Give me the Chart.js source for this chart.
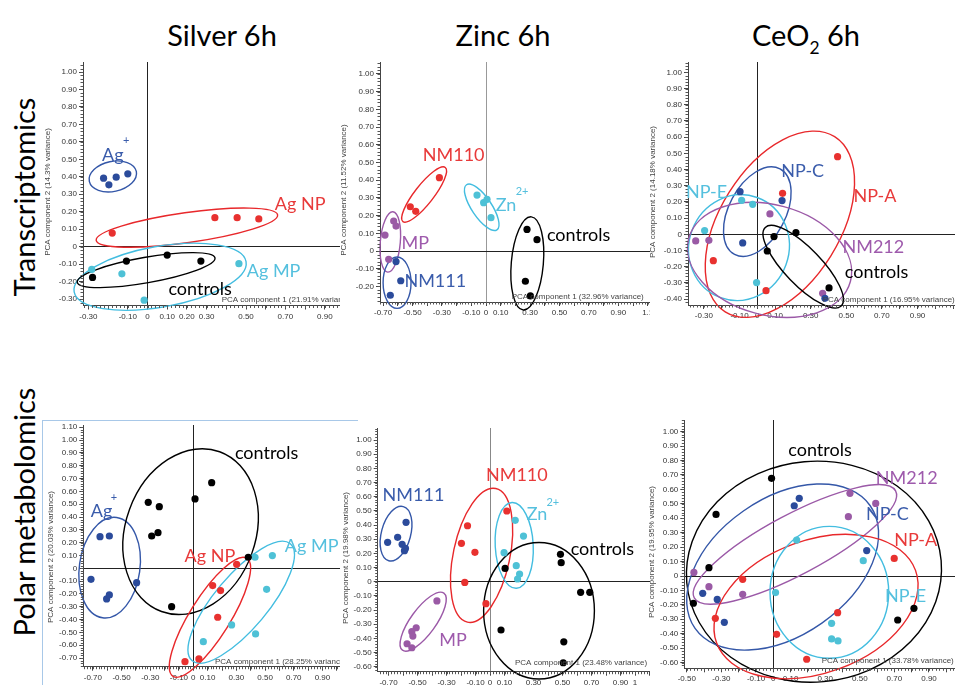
<!DOCTYPE html>
<html lang="en">
<head>
<meta charset="UTF-8" />
<title>PCA score plots – Silver, Zinc, CeO2 at 6h</title>
<script src="https://cdn.jsdelivr.net/npm/chart.js"></script>
<style>
  body { margin:0; background:#fff; width:955px; height:685px; position:relative; overflow:hidden; font-family: Lato, "Open Sans", sans-serif; }
  .title { position:absolute; top:20px; font-size:29px; line-height:1; color:#000; transform:translateX(-50%); white-space:nowrap; }
  .title sub { font-size:60%; vertical-align:baseline; position:relative; top:0.45em; }
  .rowlab { position:absolute; font-size:29px; line-height:1; color:#000; white-space:nowrap; transform:translate(-50%,-50%) rotate(-90deg); }
  .panel { position:absolute; overflow:hidden; }
  .panel canvas { position:absolute; left:0; top:0; }
  .frame { position:absolute; left:42px; top:420px; width:315px; height:300px; border-left:1px solid #a8c8e8; border-top:1px solid #a8c8e8; }
</style>
</head>
<body>
  <div class="title" style="left:222px">Silver 6h</div>
  <div class="title" style="left:503px">Zinc 6h</div>
  <div class="title" style="left:806px">CeO<sub>2</sub> 6h</div>
  <div class="rowlab" style="left:23px; top:197px">Transcriptomics</div>
  <div class="rowlab" style="left:23px; top:512px">Polar metabolomics</div>
  <div class="frame"></div>

<script>
// PCA scores [PC1, PC2]

// Silver, transcriptomics
const agTxIon  = [[-0.223,0.392],[-0.196,0.354],[-0.159,0.398],[-0.100,0.417]];
const agTxNP   = [[-0.179,0.078],[0.342,0.166],[0.455,0.166],[0.565,0.159]];
const agTxMP   = [[-0.283,-0.130],[-0.130,-0.155],[-0.017,-0.306],[0.464,-0.097]];
const agTxCtrl = [[-0.279,-0.176],[-0.107,-0.082],[0.100,-0.048],[0.271,-0.082]];

// Zinc, transcriptomics
const znTxNM110 = [[-0.515,0.250],[-0.478,0.224],[-0.317,0.414]];
const znTxIon   = [[-0.061,0.316],[-0.016,0.273],[0.007,0.292],[0.034,0.188]];
const znTxMP    = [[-0.687,0.090],[-0.628,0.169],[-0.612,0.141],[-0.662,-0.047]];
const znTxNM111 = [[-0.612,-0.060],[-0.580,-0.168],[-0.651,-0.250]];
const znTxCtrl  = [[0.279,0.122],[0.347,0.064],[0.268,-0.171],[0.302,-0.254]];

// CeO2, transcriptomics
const ceTxA    = [[0.451,0.479],[0.142,0.253],[-0.247,-0.163],[0.049,-0.348]];
const ceTxC    = [[-0.097,0.263],[0.139,0.208],[-0.082,-0.053],[0.380,-0.395]];
const ceTxE    = [[-0.088,0.210],[-0.026,0.185],[-0.296,0.023],[-0.004,-0.298]];
const ceTx212  = [[0.071,0.126],[-0.346,-0.041],[-0.272,-0.037],[0.367,-0.364]];
const ceTxCtrl = [[0.217,0.010],[0.094,-0.014],[0.056,-0.103],[0.403,-0.331]];

// Silver, polar metabolomics
const agMetIon  = [[-0.650,0.247],[-0.585,0.252],[-0.713,-0.086],[-0.604,-0.239],[-0.585,-0.208],[-0.395,-0.112]];
const agMetCtrl = [[-0.314,0.515],[-0.237,0.481],[-0.246,0.278],[-0.290,0.252],[0.012,0.541],[0.128,0.668],[0.383,0.086],[-0.151,-0.299]];
const agMetNP   = [[0.302,0.031],[0.135,-0.135],[0.190,-0.174],[0.170,-0.382],[-0.058,-0.728],[0.039,-0.707]];
const agMetMP   = [[0.430,0.086],[0.551,0.099],[0.511,-0.164],[0.267,-0.442],[0.070,-0.572],[0.434,-0.512]];

// Zinc, polar metabolomics
const znMetNM111 = [[-0.706,0.278],[-0.637,0.313],[-0.606,0.264],[-0.579,0.419],[-0.590,0.219],[-0.583,0.235]];
const znMetNM110 = [[-0.155,0.395],[-0.197,0.271],[-0.104,0.207],[-0.174,-0.005],[-0.028,-0.155],[0.116,0.499]];
const znMetIon   = [[0.174,0.433],[0.231,0.322],[0.097,0.205],[0.181,0.113],[0.204,0.054],[0.190,0.019]];
const znMetMP    = [[-0.366,-0.136],[-0.509,-0.325],[-0.539,-0.353],[-0.532,-0.384],[-0.572,-0.438],[-0.539,-0.466]];
const znMetCtrl  = [[0.104,0.094],[0.486,0.193],[0.491,0.134],[0.625,-0.075],[0.688,-0.075],[0.076,-0.341],[0.509,-0.424],[0.505,-0.572]];

// CeO2, polar metabolomics
const ceMetCtrl = [[-0.010,0.677],[-0.331,0.427],[-0.372,0.058],[-0.462,-0.189],[0.719,-0.305],[0.813,-0.224]];
const ceMet212  = [[0.443,0.573],[0.592,0.503],[0.434,0.411],[-0.459,0.025],[-0.372,-0.074],[-0.177,-0.127]];
const ceMetC    = [[0.150,0.538],[0.121,0.487],[0.540,0.176],[-0.408,-0.120],[-0.324,-0.162],[-0.283,-0.321]];
const ceMetA    = [[0.699,0.122],[-0.177,-0.023],[-0.335,-0.293],[0.019,-0.404],[0.372,-0.254],[0.193,-0.577]];
const ceMetE    = [[0.135,0.249],[0.520,0.106],[0.013,-0.115],[0.337,-0.328],[0.337,-0.436],[0.374,-0.450]];

// group ellipses: [centre PC1, centre PC2, semi-axis 1, semi-axis 2, tilt deg]
const agTxEll  = [[-0.176,0.402,0.122,0.086,-12],[0.200,0.109,0.465,0.086,-8],[0.064,-0.172,0.443,0.174,-10],[-0.007,-0.134,0.355,0.073,-10]];
const znTxEll  = [[-0.421,0.319,0.234,0.053,-52],[-0.029,0.247,0.185,0.056,56],[-0.651,0.051,0.068,0.171,5],[-0.605,-0.179,0.095,0.145,0],[0.281,-0.070,0.109,0.264,5]];
const ceTxEll  = [[0.127,0.062,0.580,0.370,-58],[0.0,0.140,0.272,0.175,-62],[-0.103,-0.082,0.281,0.329,20],[0.069,-0.158,0.470,0.340,15],[0.258,-0.200,0.307,0.113,46]];
const agMetEll = [[-0.583,0.005,0.211,0.395,8],[-0.019,0.286,0.453,0.663,20],[0.116,-0.382,0.485,0.156,-58],[0.334,-0.265,0.532,0.208,-50]];
const znMetEll = [[-0.648,0.339,0.101,0.198,15],[-0.058,0.186,0.195,0.482,12],[0.167,0.256,0.131,0.303,-3],[-0.461,-0.282,0.243,0.089,-54],[0.338,-0.205,0.382,0.482,0]];
const ceMetEll = [[0.235,0.030,0.738,0.765,-5],[0.054,0.062,0.618,0.474,-35],[0.125,0.219,0.659,0.208,-28],[0.247,-0.212,0.612,0.460,-20],[0.324,-0.113,0.343,0.457,0]];

// x tick labels shown on each plot
const agTxTicks  = ['-0.30','-0.10','0','0.10','0.20','0.30','0.50','0.70','0.90','1'];
const znTxTicks  = ['-0.70','-0.50','-0.30','-0.10','0','0.10','0.30','0.50','0.70','0.90','1.1'];
const ceTxTicks  = ['-0.30','-0.10','0','0.10','0.30','0.50','0.70','0.90'];
const agMetTicks = ['-0.70','-0.50','-0.30','-0.10','0','0.10','0.30','0.50','0.70','0.90'];
const znMetTicks = ['-0.70','-0.50','-0.30','-0.10','0','0.10','0.30','0.50','0.70','0.90','1'];
const ceMetTicks = ['-0.50','-0.30','-0.10','0','0.10','0.30','0.50','0.70','0.90'];

const C = {
  blue:   { pt:'#2b4b9b', ln:'#3457a8', tx:'#3a5cab' },
  red:    { pt:'#e8312f', ln:'#e8282b', tx:'#e83a3a' },
  cyan:   { pt:'#4ec1d6', ln:'#43bde0', tx:'#55c0de' },
  purple: { pt:'#9a5aa5', ln:'#9b59a7', tx:'#9e5aac' },
  black:  { pt:'#000000', ln:'#000000', tx:'#000000' }
};

// label [text, PC1, PC2, colour, superscript?]
const panels = [
  { clip:[40,50,300,280], ax:83, ay:305.5, top:62, right:360, x0:147.5, y0:246.7, sx:197, sy:174.7,
    ticks:agTxTicks, zeroX:'#222', yTitle:['PCA component 2 (14.3% variance)',48,192], xTitle:['PCA component 1 (21.91% variance)',221.7,299.3],
    groups:[[agTxIon,'blue'],[agTxNP,'red'],[agTxMP,'cyan'],[agTxCtrl,'black']],
    ell:agTxEll, ellC:['blue','red','cyan','black'],
    labels:[['Ag',-0.176,0.526,'blue'],['+',-0.108,0.606,'blue',1],['Ag NP',0.775,0.245,'red'],['Ag MP',0.64,-0.138,'cyan'],['controls',0.267,-0.245,'black']] },
  { clip:[338,50,312,280], ax:380, ay:302, top:62, right:665, x0:486, y0:251, sx:147, sy:177,
    ticks:znTxTicks, zeroX:'#999', yTitle:['PCA component 2 (11.52% variance)',344,190], xTitle:['PCA component 1 (32.96% variance)',511.7,297],
    groups:[[znTxNM110,'red'],[znTxIon,'cyan'],[znTxMP,'purple'],[znTxNM111,'blue'],[znTxCtrl,'black']],
    ell:znTxEll, ellC:['red','cyan','purple','blue','black'],
    labels:[['NM110',-0.220,0.542,'red'],['Zn',0.136,0.260,'cyan'],['2+',0.245,0.335,'cyan',1],['MP',-0.481,0.043,'purple'],['NM111',-0.345,-0.173,'blue'],['controls',0.630,0.090,'black']] },
  { clip:[645,50,310,280], ax:688, ay:305, top:62, right:975, x0:757.3, y0:234.3, sx:178, sy:162,
    ticks:ceTxTicks, zeroX:'#222', yTitle:['PCA component 2 (14.18% variance)',653,192], xTitle:['PCA component 1 (16.95% variance)',822.7,299.3],
    groups:[[ceTxA,'red'],[ceTxC,'blue'],[ceTxE,'cyan'],[ceTx212,'purple'],[ceTxCtrl,'black']],
    ell:ceTxEll, ellC:['red','blue','cyan','purple','black'],
    labels:[['NP-C',0.255,0.391,'blue'],['NP-E',-0.285,0.257,'cyan'],['NP-A',0.661,0.237,'red'],['NM212',0.652,-0.082,'purple'],['controls',0.670,-0.235,'black']] },
  { clip:[40,410,300,275], ax:83.3, ay:666.7, top:425, right:360, x0:193.3, y0:568.3, sx:143.5, sy:128.2,
    ticks:agMetTicks, zeroX:'#222', yTitle:['PCA component 2 (20.03% variance)',50.7,557], xTitle:['PCA component 1 (28.25% variance)',215,661.7],
    groups:[[agMetIon,'blue'],[agMetCtrl,'black'],[agMetNP,'red'],[agMetMP,'cyan']],
    ell:agMetEll, ellC:['blue','black','red','cyan'],
    labels:[['Ag',-0.639,0.442,'blue'],['+',-0.553,0.551,'blue',1],['controls',0.511,0.897,'black'],['Ag NP',0.116,0.091,'red'],['Ag MP',0.825,0.174,'cyan']] },
  { clip:[338,410,312,275], ax:377.7, ay:671.7, top:428, right:665, x0:490, y0:581.7, sx:145, sy:141.7,
    ticks:znMetTicks, zeroX:'#888', yTitle:['PCA component 2 (19.98% variance)',346,558], xTitle:['PCA component 1 (23.48% variance)',515,663],
    groups:[[znMetNM111,'blue'],[znMetNM110,'red'],[znMetIon,'cyan'],[znMetMP,'purple'],[znMetCtrl,'black']],
    ell:znMetEll, ellC:['blue','red','cyan','purple','black'],
    labels:[['NM111',-0.528,0.612,'blue'],['NM110',0.185,0.753,'red'],['Zn',0.324,0.475,'cyan'],['2+',0.433,0.56,'cyan',1],['controls',0.775,0.231,'black'],['MP',-0.255,-0.412,'purple']] },
  { clip:[645,410,310,275], ax:684.3, ay:668.3, top:420, right:975, x0:773.3, y0:576, sx:173, sy:144.3,
    ticks:ceMetTicks, zeroX:'#222', yTitle:['PCA component 2 (19.95% variance)',651.7,552], xTitle:['PCA component 1 (33.78% variance)',821.7,660.7],
    groups:[[ceMetCtrl,'black'],[ceMet212,'purple'],[ceMetC,'blue'],[ceMetA,'red'],[ceMetE,'cyan']],
    ell:ceMetEll, ellC:['black','blue','purple','red','cyan'],
    labels:[['controls',0.270,0.873,'black'],['NM212',0.771,0.677,'purple'],['NP-C',0.659,0.427,'blue'],['NP-A',0.823,0.249,'red'],['NP-E',0.765,-0.143,'cyan']] }
];

Chart.defaults.font.family = '"Liberation Sans", Arial, sans-serif';

function fmt(v) {
  const r = Math.round(v * 100) / 100;
  return r === 0 ? '0' : r.toFixed(2);
}
const isZero = c => c.tick && Math.abs(c.tick.value) < 1e-9;

// ticks on every multiple of 0.1 inside the axis range
function tenths(s) {
  const out = [];
  for (let k = Math.ceil(s.min * 10 - 1e-6); k / 10 <= s.max + 1e-9; k++) out.push({ value: k / 10 });
  s.ticks = out;
}

function overlay(p) {
  const [cl, ct] = p.clip;
  return {
    id: 'overlay',
    beforeDatasetsDraw(chart) {
      const ctx = chart.ctx, xs = chart.scales.x, ys = chart.scales.y;
      const kx = xs.getPixelForValue(1) - xs.getPixelForValue(0);
      const ky = ys.getPixelForValue(0) - ys.getPixelForValue(1);
      ctx.save();
      ctx.lineWidth = 1.4;
      p.ell.forEach((e, i) => {
        ctx.strokeStyle = C[p.ellC[i]].ln;
        ctx.beginPath();
        ctx.ellipse(xs.getPixelForValue(e[0]), ys.getPixelForValue(e[1]), e[2] * kx, e[3] * ky, e[4] * Math.PI / 180, 0, Math.PI * 2);
        ctx.stroke();
      });
      ctx.restore();
    },
    afterDatasetsDraw(chart) {
      const ctx = chart.ctx, xs = chart.scales.x, ys = chart.scales.y, a = chart.chartArea;
      ctx.save();
      // minor tick marks
      ctx.strokeStyle = '#555';
      ctx.lineWidth = 1;
      ctx.beginPath();
      for (let k = Math.ceil(xs.min / 0.02); k * 0.02 <= xs.max; k++) {
        const px = Math.round(xs.getPixelForValue(k * 0.02)) + 0.5;
        ctx.moveTo(px, a.bottom); ctx.lineTo(px, a.bottom + 2.5);
      }
      for (let k = Math.ceil(ys.min / 0.02); k * 0.02 <= ys.max; k++) {
        const py = Math.round(ys.getPixelForValue(k * 0.02)) + 0.5;
        ctx.moveTo(a.left - 2.5, py); ctx.lineTo(a.left, py);
      }
      ctx.stroke();
      // axis titles
      ctx.fillStyle = '#444';
      ctx.font = '8px "Liberation Sans", Arial, sans-serif';
      ctx.textBaseline = 'middle';
      ctx.textAlign = 'left';
      ctx.fillText(p.xTitle[0], p.xTitle[1] - cl, p.xTitle[2] - ct);
      ctx.translate(p.yTitle[1] - cl, p.yTitle[2] - ct);
      ctx.rotate(-Math.PI / 2);
      ctx.textAlign = 'center';
      ctx.fillText(p.yTitle[0], 0, 0);
      ctx.restore();
      // group labels
      ctx.save();
      ctx.textAlign = 'center';
      ctx.textBaseline = 'middle';
      p.labels.forEach(l => {
        ctx.font = (l[4] ? '11px' : '18px') + ' Lato, "Open Sans", sans-serif';
        ctx.fillStyle = C[l[3]].tx;
        ctx.fillText(l[0], xs.getPixelForValue(l[1]), ys.getPixelForValue(l[2]));
      });
      ctx.restore();
    }
  };
}

panels.forEach(p => {
  const [cl, ct, cw, ch] = p.clip;
  const div = document.createElement('div');
  div.className = 'panel';
  Object.assign(div.style, { left: cl + 'px', top: ct + 'px', width: cw + 'px', height: ch + 'px' });
  const canvas = document.createElement('canvas');
  const W = p.right + 20 - cl, H = ch;
  canvas.width = W; canvas.height = H;
  canvas.style.width = W + 'px'; canvas.style.height = H + 'px';
  div.appendChild(canvas);
  document.body.appendChild(div);

  const tickFont = { size: 8, family: '"Liberation Sans", Arial, sans-serif' };
  new Chart(canvas, {
    type: 'scatter',
    data: {
      datasets: p.groups.map(([pts, col]) => ({
        data: pts.map(([x, y]) => ({ x, y })),
        backgroundColor: C[col].pt,
        borderWidth: 0,
        pointRadius: 3.6,
        pointHoverRadius: 3.6,
        clip: false
      }))
    },
    options: {
      responsive: false,
      animation: false,
      events: [],
      layout: { padding: { left: 0, top: p.top - ct, right: W - (p.right - cl), bottom: 0 } },
      plugins: { legend: { display: false }, tooltip: { enabled: false } },
      scales: {
        x: {
          type: 'linear',
          min: (p.ax - p.x0) / p.sx,
          max: (p.right - p.x0) / p.sx,
          afterBuildTicks: tenths,
          afterFit: s => { s.height = ct + ch - p.ay; },
          border: { display: true, color: '#444', width: 1 },
          grid: { color: c => isZero(c) ? p.zeroX : 'rgba(0,0,0,0)', tickColor: '#444', tickLength: 4, drawTicks: true },
          ticks: {
            autoSkip: false, maxRotation: 0, minRotation: 0,
            padding: 2, color: '#333', font: tickFont,
            callback: v => p.ticks.find(t => Math.abs(parseFloat(t) - v) < 1e-6) ?? ''
          }
        },
        y: {
          type: 'linear',
          min: (p.y0 - p.ay) / p.sy,
          max: (p.y0 - p.top) / p.sy,
          afterBuildTicks: tenths,
          afterFit: s => { s.width = p.ax - cl; },
          border: { display: true, color: '#444', width: 1 },
          grid: { color: c => isZero(c) ? '#222' : 'rgba(0,0,0,0)', tickColor: '#444', tickLength: 4, drawTicks: true },
          ticks: {
            autoSkip: false,
            padding: 2, color: '#333', font: tickFont,
            callback: v => fmt(v)
          }
        }
      }
    },
    plugins: [overlay(p)]
  });
});
</script>
</body>
</html>
